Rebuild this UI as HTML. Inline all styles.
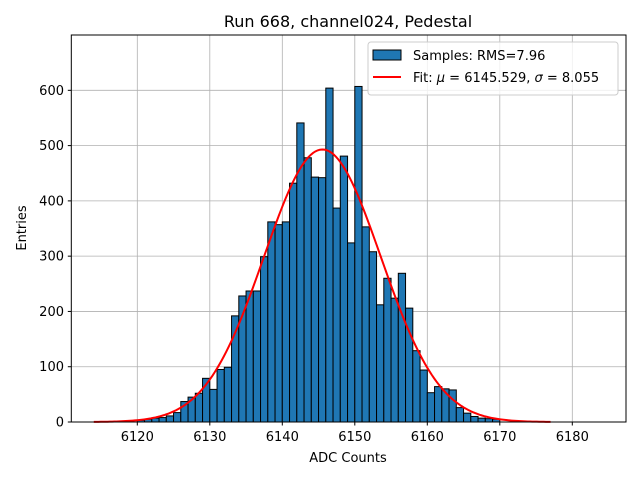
<!DOCTYPE html>
<html><head><meta charset="utf-8"><style>
body{margin:0;background:#fff}
svg text{font-family:"DejaVu Sans","Liberation Sans",sans-serif;fill:#000}
</style></head><body>
<svg width="640" height="480" xmlns="http://www.w3.org/2000/svg">
<g id="grid"></g>
<g id="bars"></g>
<path id="fit" fill="none" stroke="#ff0000" stroke-width="2"/>
<rect x="71.3" y="35" width="554.7" height="387" fill="none" stroke="#000" stroke-width="1"/>
<g id="ticks"></g>
<text x="348" y="27" font-size="16" text-anchor="middle">Run 668, channel024, Pedestal</text>
<text x="348" y="462" font-size="13" text-anchor="middle">ADC Counts</text>
<text x="26" y="228" font-size="13" text-anchor="middle" transform="rotate(-90 26 228)">Entries</text>
<g>
<rect x="368" y="42" width="250" height="53" rx="3" fill="#fff" fill-opacity="0.8" stroke="#ccc"/>
<rect x="373" y="50" width="28" height="10" fill="#1f77b4" stroke="#000"/>
<text x="413" y="60" font-size="13">Samples: RMS=7.96</text>
<line x1="373" y1="77" x2="401" y2="77" stroke="#ff0000" stroke-width="2"/>
<text x="413" y="82" font-size="13">Fit: <tspan font-style="italic">μ</tspan> = 6145.529, <tspan font-style="italic">σ</tspan> = 8.055</text>
</g>
</svg>
<script>
const binStarts=[6120,6121,6122,6123,6124,6125,6126,6127,6128,6129,6130,6131,6132,6133,6134,6135,6136,6137,6138,6139,6140,6141,6142,6143,6144,6145,6146,6147,6148,6149,6150,6151,6152,6153,6154,6155,6156,6157,6158,6159,6160,6161,6162,6163,6164,6165,6166,6167,6168,6169];
const counts=[3,5,7,8,11,17,37,45,52,79,59,95,99,192,228,237,237,299,362,357,362,432,541,478,443,442,604,387,481,324,607,353,308,212,260,224,269,206,129,94,53,64,60,58,26,16,10,7,6,5];
const xTicks=[6120,6130,6140,6150,6160,6170,6180];
const yTicks=[0,100,200,300,400,500,600];
const fitMu=6145.529, fitSigma=8.055, fitAmp=493, fitRange=[6114,6177];
const NS="http://www.w3.org/2000/svg";
const X=v=>137.3+(v-6120)*7.25;
const Y=v=>422-v*0.5528;
function mk(t,a,p){const e=document.createElementNS(NS,t);for(const k in a)e.setAttribute(k,a[k]);p.appendChild(e);return e;}
const grid=document.getElementById('grid'),bars=document.getElementById('bars'),ticks=document.getElementById('ticks');
xTicks.forEach(v=>{
 const l=mk('line',{x1:X(v),x2:X(v),y1:35,y2:422,stroke:'#b0b0b0','stroke-width':0.8},grid);
 
 
 const t=mk('line',{x1:X(v),x2:X(v),y1:422,y2:425.5,stroke:'#000'},ticks);
 
 
 const tx=mk('text',{x:X(v),y:441,'font-size':13,'text-anchor':'middle'},ticks);tx.textContent=v;
 
 
});
yTicks.forEach(v=>{
 const l=mk('line',{x1:71.3,x2:626,y1:Y(v),y2:Y(v),stroke:'#b0b0b0','stroke-width':0.8},grid);
 
 
 const t=mk('line',{x1:67.8,x2:71.3,y1:Y(v),y2:Y(v),stroke:'#000'},ticks);
 
 
 const tx=mk('text',{x:64,y:Y(v)+4.5,'font-size':13,'text-anchor':'end'},ticks);tx.textContent=v;
 
 
});
binStarts.forEach((b,i)=>{
 const r=mk('rect',{x:X(b),y:Y(counts[i]),width:X(b+1)-X(b),height:Y(0)-Y(counts[i]),fill:'#1f77b4',stroke:'#000','stroke-width':1},bars);
 
 
});
let d='';
for(let i=0;i<=200;i++){const v=fitRange[0]+(fitRange[1]-fitRange[0])*i/200;
 const f=fitAmp*Math.exp(-0.5*((v-fitMu)/fitSigma)**2);
 d+=(i?'L':'M')+X(v).toFixed(2)+','+Y(f).toFixed(2);}
document.getElementById('fit').setAttribute('d',d);
</script>
</body></html>
